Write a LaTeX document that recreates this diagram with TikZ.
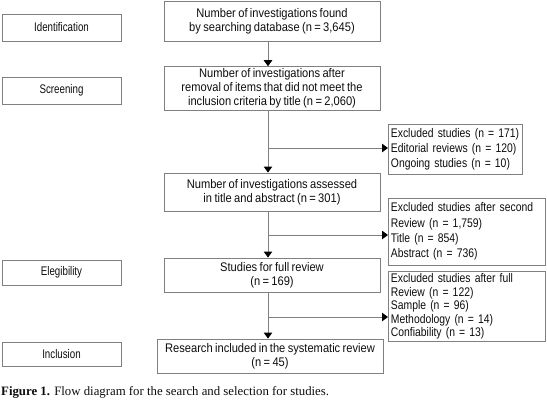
\documentclass[tikz,border=0pt]{standalone}
\usepackage{fontspec}
\setmainfont{Liberation Serif}
\newfontfamily\narrow[FakeStretch=0.89]{Liberation Sans}
\newfontfamily\narrowc[FakeStretch=0.83]{Liberation Sans}
\newfontfamily\narrowb[FakeStretch=0.78]{Liberation Sans}
\newcommand\mainfnt{\narrow\fontsize{12.5}{14}\selectfont\fontdimen2\font=0.19em\relax}
\newcommand\sidefnt[1]{\narrowc\fontsize{12.5}{#1}\selectfont\fontdimen2\font=0.16em\relax}
\usetikzlibrary{arrows.meta}
\definecolor{edge}{gray}{0.5}
\definecolor{ink}{gray}{0.05}
\begin{document}
\begin{tikzpicture}[x=1pt,y=-1pt,
  box/.style={draw=edge,line width=0.9pt,rectangle,inner sep=2pt,
    font=\mainfnt,text=ink},
  stage/.style={box,font=\narrowb\fontsize{12.5}{14}\selectfont,minimum width=119pt,align=center},
  mainbox/.style={box,minimum width=216pt,align=center},
  sidebox/.style={box,align=left,anchor=west,inner xsep=2.5pt},
  flow/.style={draw=edge,line width=0.9pt,-{Triangle[length=6pt,width=8.5pt,color=black]}}
]
\useasboundingbox (0,0) rectangle (547,408);
% stage labels
\node[stage,minimum height=27pt] (id) at (61.5,27.5) {Identification};
\node[stage,minimum height=27pt] (sc) at (61.5,90.5) {Screening};
\node[stage,minimum height=25pt] (el) at (61.5,272.5) {Elegibility};
\node[stage,minimum height=24pt] (in) at (61.5,354) {Inclusion};
% main column
\node[mainbox,minimum height=40pt] (m1) at (272,21) {Number of investigations found\\by searching database (n = 3,645)};
\node[mainbox,minimum height=41pt] (m2) at (272,88.5) {Number of investigations after\\removal of items that did not meet the\\inclusion criteria by title (n = 2,060)};
\node[mainbox,minimum height=38pt] (m3) at (272,192) {Number of investigations assessed\\in title and abstract (n = 301)};
\node[mainbox,minimum height=34pt] (m4) at (272,275) {Studies for full review\\(n = 169)};
\node[box,minimum width=226pt,minimum height=34pt,align=center] (m5) at (270,356) {Research included in the systematic review\\(n = 45)};
% side boxes
\node[sidebox,text width=129pt,minimum height=50pt,font=\sidefnt{15}] (r1) at (388,149) {\mbox{Excluded studies (n = 171)}\\\mbox{Editorial reviews (n = 120)}\\\mbox{Ongoing studies (n = 10)}};
\node[sidebox,text width=152pt,minimum height=67pt,font=\sidefnt{15.3}] (r2) at (388,231.5) {\mbox{Excluded studies after second}\\Review (n = 1,759)\\Title (n = 854)\\Abstract (n = 736)};
\node[sidebox,text width=152pt,minimum height=67pt,font=\sidefnt{13.6}] (r3) at (388,306.5) {Excluded studies after full\\Review (n = 122)\\Sample (n = 96)\\Methodology (n = 14)\\Confiability (n = 13)};
% spine coordinates
\coordinate (s1) at (268,41);
\coordinate (b1) at (268,148);
\coordinate (b2) at (268,235);
\coordinate (b3) at (268,317);
% vertical flows
\draw[flow] (s1 |- m1.south) -- (s1 |- m2.north);
\draw[flow] (s1 |- m2.south) -- (s1 |- m3.north);
\draw[flow] (s1 |- m3.south) -- (s1 |- m4.north);
\draw[flow] (s1 |- m4.south) -- (s1 |- m5.north);
% branches
\draw[flow] (b1) -- (b1 -| r1.west);
\draw[flow] (b2) -- (b2 -| r2.west);
\draw[flow] (b3) -- (b3 -| r3.west);
% caption
\node[anchor=base west,inner sep=0pt,font=\fontsize{12.8}{14}\selectfont,text=ink] (cap) at (1,395) {\textbf{Figure 1.} Flow diagram for the search and selection for studies.};
\end{tikzpicture}
\end{document}
